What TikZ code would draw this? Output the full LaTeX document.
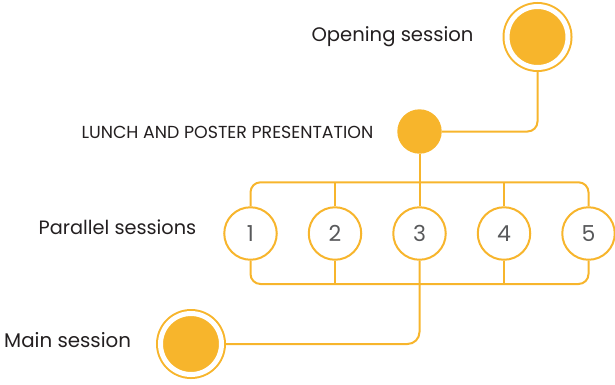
\documentclass[tikz,border=0pt]{standalone}
\usepackage{fontspec}
\setmainfont{Poppins}
\usetikzlibrary{positioning,calc}
\definecolor{gold}{HTML}{F7B52C}
\definecolor{ink}{HTML}{231F20}
\definecolor{numgray}{HTML}{58595B}
\tikzset{
    link/.style={draw=gold, line width=2pt, rounded corners=10pt},
    label/.style={inner sep=0pt, outer sep=0pt, text=ink}
}

\begin{document}
\begin{tikzpicture}[
  x=1pt, y=-1pt,
  node distance=30pt,
  milestone/.style={circle, fill=gold, draw=gold, double=white, double distance=5pt,
    line width=2pt, minimum size=61pt, inner sep=0pt, outer sep=4.5pt},
  dot/.style={circle, fill=gold, minimum size=44.4pt, inner sep=0pt, outer sep=0pt},
  track/.style={circle, draw=gold, fill=white, line width=2pt, minimum size=52.5pt,
    inner sep=0pt, outer sep=1pt, text=numgray, font=\fontsize{22}{24}\selectfont}
]
\useasboundingbox (0,0) rectangle (615,384);

% Nodes
\node[milestone] (open) at (537.5,37) {};
\node[dot] (lunch) at (419.5,131.5) {};
\node[track] (p1) at (250.5,233.5) {1};
\node[track, right=of p1] (p2) {2};
\node[track, right=of p2] (p3) {3};
\node[track, right=of p3] (p4) {4};
\node[track, right=of p4] (p5) {5};
\node[milestone] (main) at (191,344) {};

% Labels
\node[label, left=29pt of open, font=\fontsize{19.6}{22}\selectfont] (openlbl) {Opening session};
\node[label, left=24pt of lunch, yshift=-1pt, font=\fontsize{17.4}{20}\selectfont] (lunchlbl) {LUNCH AND POSTER PRESENTATION};
\node[label, left=27pt of p1, yshift=6pt, font=\fontsize{19.3}{22}\selectfont] (parlbl) {Parallel sessions};
\node[label, left=25pt of main, yshift=4pt, font=\fontsize{19.8}{22}\selectfont] (mainlbl) {Main session};

% Bars
\coordinate (topbar) at (419.5,182.3);
\coordinate (botbar) at (419.5,284);

% Connectors
\draw[link] (open.south) |- (lunch.east);
\draw[link] (lunch.south) -- (p3.north);
\draw[link] (p1.north) -- (p1.north |- topbar) -- (p5.north |- topbar) -- (p5.north);
\draw[link] (p2.north) -- (p2.north |- topbar);
\draw[link] (p4.north) -- (p4.north |- topbar);
\draw[link] (p1.south) -- (p1.south |- botbar) -- (p5.south |- botbar) -- (p5.south);
\draw[link] (p2.south) -- (p2.south |- botbar);
\draw[link] (p4.south) -- (p4.south |- botbar);
\draw[link, rounded corners=12pt] (p3.south) |- (main.east);
\end{tikzpicture}
\end{document}
